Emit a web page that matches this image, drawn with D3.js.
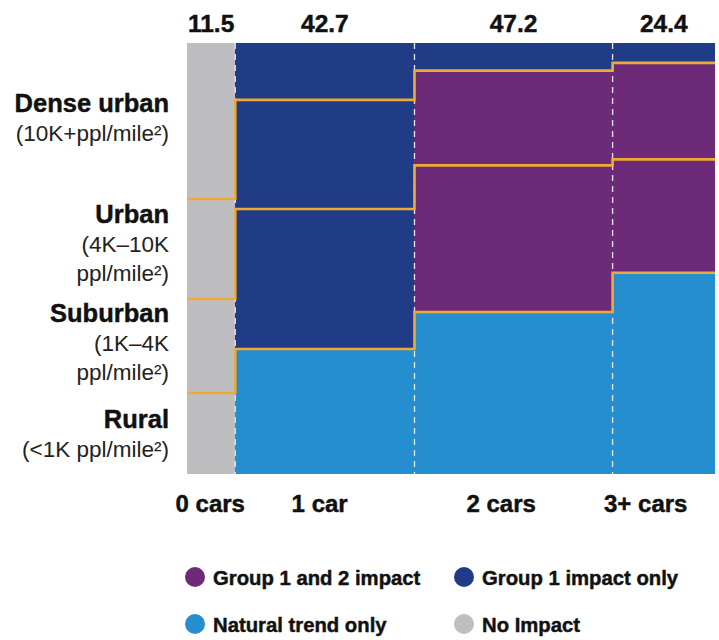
<!DOCTYPE html>
<html>
<head>
<meta charset="utf-8">
<script src="https://cdn.jsdelivr.net/npm/d3@7/dist/d3.min.js"></script>
<style>
  html, body { margin: 0; padding: 0; background: #fff; }
  svg { display: block; font-family: "Liberation Sans", Arial, Helvetica, sans-serif; }
  .heavy { font-weight: bold; fill: #111; stroke: #111; stroke-width: 0.45px; }
</style>
</head>
<body>
<svg id="chart" width="719" height="640"></svg>
<script>
// Households by car ownership (column width) and density (stacked share, %)
const carCategories = ["0 cars", "1 car", "2 cars", "3+ cars"];
const carTotals = [11.5, 42.7, 47.2, 24.4];

const densityNames = ["Dense urban", "Urban", "Suburban", "Rural"];
const densityNotes = [
  ["(10K+ppl/mile²)"],
  ["(4K–10K", "ppl/mile²)"],
  ["(1K–4K", "ppl/mile²)"],
  ["(<1K ppl/mile²)"]
];

// Share of each density class within a car-ownership column (top to bottom)
const sharesZeroCars = [36.2, 23.2, 21.8, 18.8];
const sharesOneCar   = [13.2, 25.3, 32.5, 29.0];
const sharesTwoCars  = [6.4, 22.0, 34.0, 37.6];
const sharesThreeCars = [4.6, 22.4, 26.3, 46.7];

// Impact group for each cell
const impactZeroCars  = ["none", "none", "none", "none"];
const impactOneCar    = ["g1", "g1", "g1", "trend"];
const impactTwoCars   = ["g1", "g12", "g12", "trend"];
const impactThreeCars = ["g1", "g12", "g12", "trend"];

const legendKeys   = ["g12", "g1", "trend", "none"];
const legendLabels = ["Group 1 and 2 impact", "Group 1 impact only", "Natural trend only", "No Impact"];

const shares  = [sharesZeroCars, sharesOneCar, sharesTwoCars, sharesThreeCars];
const impacts = [impactZeroCars, impactOneCar, impactTwoCars, impactThreeCars];

const color = d3.scaleOrdinal()
  .domain(["g12", "g1", "trend", "none"])
  .range(["#6c2a78", "#213c87", "#248ecf", "#bebec1"]);

const svg = d3.select("#chart");
const plot = { left: 187, right: 715, top: 43, bottom: 474 };

const total = d3.sum(carTotals);
const x = d3.scaleLinear().domain([0, total]).range([plot.left, plot.right]);
const y = d3.scaleLinear().domain([0, 100]).range([plot.top, plot.bottom]);
// Category names sit on a slightly tighter band so "3+ cars" keeps clear of the edge
const xName = d3.scaleLinear().domain([0, total]).range([plot.left, plot.right - 20]);

// Column extents along the x axis
const starts = d3.cumsum([0].concat(carTotals.slice(0, -1)));
const columns = carCategories.map((name, i) => ({
  name, value: carTotals[i], x0: starts[i], x1: starts[i] + carTotals[i]
}));

// Cells
const cells = [];
columns.forEach((col, i) => {
  let acc = 0;
  shares[i].forEach((s, k) => {
    cells.push({ col, k, y0: acc, y1: acc + s, impact: impacts[i][k] });
    acc += s;
  });
});

svg.append("g").selectAll("rect")
  .data(cells)
  .join("rect")
  .attr("x", d => x(d.col.x0))
  .attr("width", d => x(d.col.x1) - x(d.col.x0))
  .attr("y", d => y(d.y0))
  .attr("height", d => y(d.y1) - y(d.y0))
  .attr("fill", d => color(d.impact))
  .attr("shape-rendering", "crispEdges");

// Dashed separators between columns
svg.append("g").selectAll("line")
  .data(columns.slice(1))
  .join("line")
  .attr("x1", d => x(d.x0)).attr("x2", d => x(d.x0))
  .attr("y1", y(0)).attr("y2", y(100))
  .attr("stroke", "#e8e4f4")
  .attr("stroke-width", 1.3)
  .attr("stroke-dasharray", "6,5");

// Orange step lines marking density boundaries across columns
const boundaries = [1, 2, 3].map(k =>
  columns.flatMap((col, i) => {
    const c = d3.sum(shares[i].slice(0, k));
    return [[x(col.x0), y(c)], [x(col.x1), y(c)]];
  })
);
svg.append("g").selectAll("path")
  .data(boundaries)
  .join("path")
  .attr("d", d3.line())
  .attr("fill", "none")
  .attr("stroke", "#eeaa36")
  .attr("stroke-width", 2.6)
  .attr("stroke-linejoin", "miter");

// Column totals above
svg.append("g").selectAll("text")
  .data(columns)
  .join("text")
  .attr("class", "heavy")
  .attr("x", d => x((d.x0 + d.x1) / 2))
  .attr("y", 32)
  .attr("text-anchor", "middle")
  .attr("font-size", 24.5)
  .text(d => d.value.toFixed(1));

// Column names below
svg.append("g").selectAll("text")
  .data(columns)
  .join("text")
  .attr("class", "heavy")
  .attr("x", d => xName((d.x0 + d.x1) / 2))
  .attr("y", 512)
  .attr("text-anchor", "middle")
  .attr("font-size", 24)
  .text(d => d.name);

// Density labels on the left
const labelBaselines = [112, 223, 322, 428];
const rowLabels = svg.append("g").attr("text-anchor", "end");
densityNames.forEach((name, k) => {
  rowLabels.append("text")
    .attr("class", "heavy")
    .attr("x", 169)
    .attr("y", labelBaselines[k])
    .attr("font-size", 25.5)
    .text(name);
  densityNotes[k].forEach((line, j) => {
    rowLabels.append("text")
      .attr("x", 169)
      .attr("y", labelBaselines[k] + 29 * (j + 1))
      .attr("font-size", 22.5)
      .attr("fill", "#222")
      .text(line);
  });
});

// Legend
const legendPos = [[195, 577], [464, 577], [195, 624], [464, 624]];
const legend = svg.append("g").selectAll("g")
  .data(legendKeys)
  .join("g")
  .attr("transform", (d, i) => `translate(${legendPos[i][0]},${legendPos[i][1]})`);
legend.append("circle")
  .attr("r", 10)
  .attr("fill", d => color(d));
legend.append("text")
  .attr("class", "heavy")
  .attr("x", 18)
  .attr("y", 8)
  .attr("font-size", 20.3)
  .text((d, i) => legendLabels[i]);
</script>
</body>
</html>
